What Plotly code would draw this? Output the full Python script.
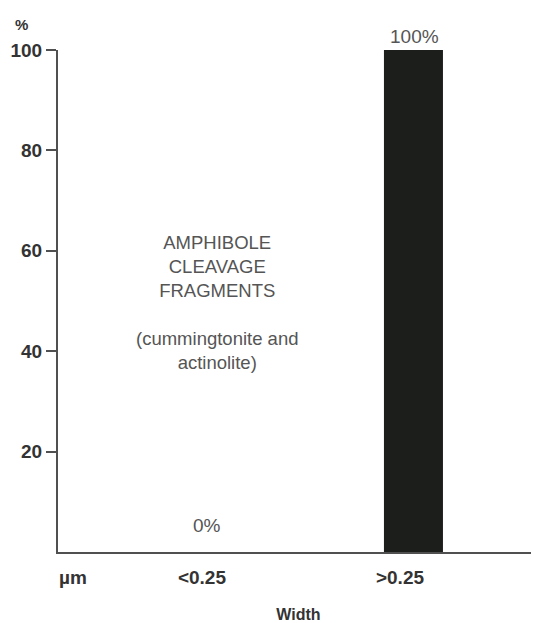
import plotly.graph_objects as go

categories = ["<0.25", ">0.25"]
values = [0, 100]
value_labels = ["0%", "100%"]
y_ticks = [20, 40, 60, 80, 100]
text_block = "AMPHIBOLE<br>CLEAVAGE<br>FRAGMENTS<br><br>(cummingtonite and<br>actinolite)"

# label nudges (pixels) to match the original artwork
label_yshift = [14, 1]
label_xshift = [5, 15]

FONT = "Liberation Sans, Arial"
BODY = 8  # default page body margin in the exported html

W, H = 539 - BODY, 623 - BODY
ML, MT, MR = 58 - BODY, 50 - BODY, 0
MB = H - MT - 502
PW, PH = W - ML - MR, 502

BAR_W = 0.298

fig = go.Figure()
fig.add_trace(go.Bar(
    x=categories, y=values, width=BAR_W, offset=-BAR_W / 2 + 0.068,
    marker=dict(color="#1b1e1b", line=dict(width=0)),
    showlegend=False, hoverinfo="skip",
))

for c, v, t, ys, xs in zip(categories, values, value_labels, label_yshift, label_xshift):
    fig.add_annotation(x=c, y=v, text=t, showarrow=False, yanchor="bottom",
                       yshift=ys, xshift=xs, font=dict(family=FONT, size=19, color="#555"))

fig.add_annotation(x=0.076, y=49.8, xref="x", yref="y", text=text_block, showarrow=False,
                   yanchor="middle", align="center",
                   font=dict(family=FONT, size=18.5, color="#555"))

# "%" unit above the y axis and "µm" unit left of the x tick labels (positions in plot pixels)
fig.add_annotation(xref="paper", yref="paper", x=(21 - 58) / PW, y=(552 - 24) / PH,
                   text="<b>%</b>", showarrow=False, xanchor="center", yanchor="middle",
                   font=dict(family=FONT, size=15, color="#333"))
fig.add_annotation(xref="paper", yref="paper", x=(73 - 58) / PW, y=-(577 - 552) / PH,
                   text="<b>µm</b>", showarrow=False, xanchor="center", yanchor="middle",
                   font=dict(family=FONT, size=19, color="#333"))

fig.update_layout(
    width=W, height=H,
    margin=dict(l=ML, r=MR, t=MT, b=MB, autoexpand=False),
    paper_bgcolor="white", plot_bgcolor="white",
    font=dict(family=FONT, color="#333"),
    xaxis=dict(
        type="category", range=[-0.727, 1.702], showline=True, linecolor="#505050", linewidth=2,
        showgrid=False, zeroline=False, ticks="outside", ticklen=7, tickcolor="rgba(0,0,0,0)",
        tickfont=dict(size=19, family=FONT, color="#333", weight="bold"),
        title=dict(text="<b>Width</b>", font=dict(size=16, color="#333"), standoff=25),
        fixedrange=True, automargin=False,
    ),
    yaxis=dict(
        range=[0, 100], showline=True, linecolor="#505050", linewidth=2, showgrid=False,
        zeroline=False, tickvals=y_ticks, ticks="outside", ticklen=10, tickwidth=1.5,
        tickcolor="#505050", tickfont=dict(size=19, family=FONT, color="#333", weight="bold"),
        ticklabelstandoff=0, fixedrange=True, automargin=False,
    ),
)

fig.write_html("out.html")
